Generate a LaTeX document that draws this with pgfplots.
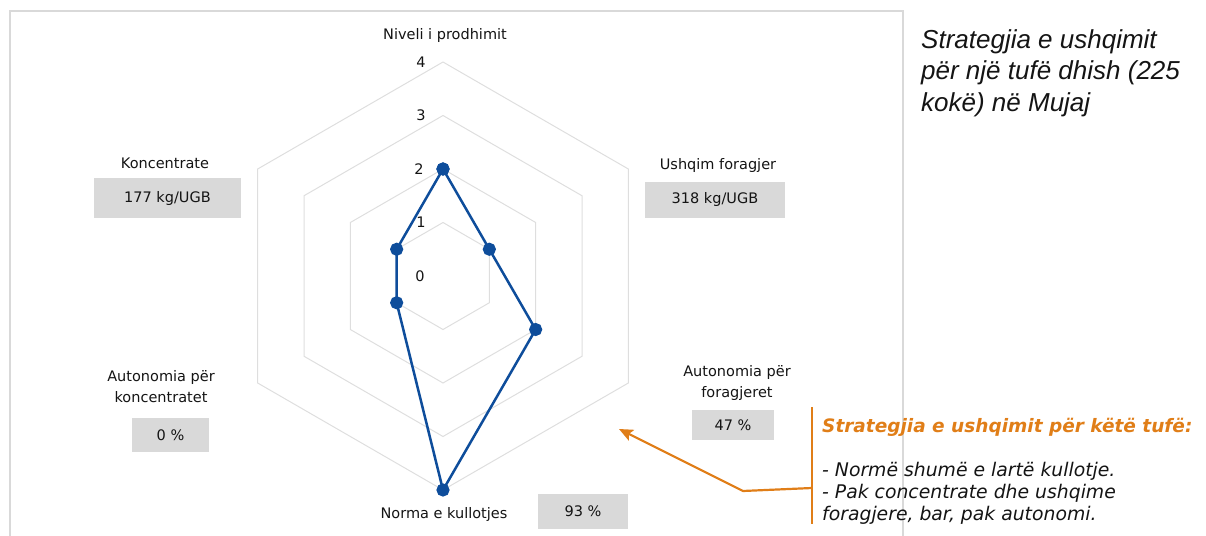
\documentclass[border=0pt]{standalone}
\usepackage{pgfplots}
\pgfplotsset{compat=1.18}
\usetikzlibrary{arrows.meta}
\usepackage{fontspec}
\setmainfont{DejaVu Sans}
\newfontfamily\titlefont{Liberation Sans}
\definecolor{gridc}{RGB}{222,222,222}
\definecolor{framec}{RGB}{217,217,217}
\definecolor{serc}{RGB}{14,77,155}
\definecolor{orng}{RGB}{224,126,24}
\definecolor{boxc}{RGB}{217,217,217}
\definecolor{txt}{RGB}{20,20,20}
\newcommand\lf{\fontsize{14.5bp}{21bp}\selectfont}
\begin{document}
\begin{tikzpicture}
\path[use as bounding box] (0bp,0bp) rectangle (1206bp,-536bp);
\draw[framec, line width=1.5bp] (10bp,-560bp) -- (10bp,-11bp) -- (903bp,-11bp) -- (903bp,-560bp);
\begin{axis}[at={(443bp,-276bp)}, anchor=center, scale only axis,
  width=428bp, height=428bp, xmin=-4, xmax=4, ymin=-4, ymax=4,
  hide axis, clip=false]
\addplot[gridc, line width=1bp, data cs=polar] coordinates {(90,1) (30,1) (-30,1) (-90,1) (-150,1) (150,1) (90,1)};
\addplot[gridc, line width=1bp, data cs=polar] coordinates {(90,2) (30,2) (-30,2) (-90,2) (-150,2) (150,2) (90,2)};
\addplot[gridc, line width=1bp, data cs=polar] coordinates {(90,3) (30,3) (-30,3) (-90,3) (-150,3) (150,3) (90,3)};
\addplot[gridc, line width=1bp, data cs=polar] coordinates {(90,4) (30,4) (-30,4) (-90,4) (-150,4) (150,4) (90,4)};
\addplot[serc, line width=2.5bp, mark=*, mark size=5.3bp, mark options={solid, fill=serc}, data cs=polar]
  coordinates {(90,2) (30,1) (-30,2) (-90,4) (-150,1) (150,1) (90,2)};
\node[text=txt, font=\lf] at (axis cs:-0.41,4) {4};
\node[text=txt, font=\lf] at (axis cs:-0.41,3) {3};
\node[text=txt, font=\lf] at (axis cs:-0.45,2) {2};
\node[text=txt, font=\lf] at (axis cs:-0.41,1) {1};
\node[text=txt, font=\lf] at (axis cs:-0.43,0) {0};
\end{axis}
\begin{scope}[x=1bp,y=1bp]
% category labels
\node[text=txt, font=\lf] at (445,-35) {Niveli i prodhimit};
\node[text=txt, font=\lf] at (165,-163) {Koncentrate};
\node[fill=boxc, minimum width=147bp, minimum height=40bp, inner sep=0, text=txt, font=\lf] at (167.5,-198) {177 kg/UGB};
\node[text=txt, font=\lf] at (718,-165) {Ushqim foragjer};
\node[fill=boxc, minimum width=140bp, minimum height=36bp, inner sep=0, text=txt, font=\lf] at (715,-199.5) {318 kg/UGB};
\node[text=txt, font=\lf, align=center] at (161,-387) {Autonomia për\\koncentratet};
\node[fill=boxc, minimum width=77bp, minimum height=34bp, inner sep=0, text=txt, font=\lf] at (170.5,-435) {0 \%};
\node[text=txt, font=\lf, align=center] at (737,-383) {Autonomia për\\foragjeret};
\node[fill=boxc, minimum width=82bp, minimum height=30bp, inner sep=0, text=txt, font=\lf] at (733,-425) {47 \%};
\node[text=txt, font=\lf] at (444,-514) {Norma e kullotjes};
\node[fill=boxc, minimum width=90bp, minimum height=35bp, inner sep=0, text=txt, font=\lf] at (583,-511.5) {93 \%};
% title
\node[anchor=north west, align=left, inner sep=0, text=txt,
  font={\titlefont\itshape\fontsize{26bp}{31.5bp}\selectfont}] at (921,-29) {Strategjia e ushqimit\\për një tufë dhish (225\\kokë) në Mujaj};
% callout
\draw[orng, line width=2bp] (812,-407) -- (812,-524);
\draw[orng, line width=2.2bp, -{Stealth[length=14bp,width=12bp,inset=3bp]}] (812,-488) -- (743,-491) -- (619,-429);
\node[anchor=base west, inner sep=0, text=orng, font={\bfseries\itshape\fontsize{18.5bp}{21bp}\selectfont}] at (822,-432) {Strategjia e ushqimit për këtë tufë:};
\node[anchor=base west, inner sep=0, text=txt, font={\itshape\fontsize{18.8bp}{21bp}\selectfont}] at (822,-476) {- Normë shumë e lartë kullotje.};
\node[anchor=base west, inner sep=0, text=txt, font={\itshape\fontsize{18.8bp}{21bp}\selectfont}] at (822,-498) {- Pak concentrate dhe ushqime};
\node[anchor=base west, inner sep=0, text=txt, font={\itshape\fontsize{18.8bp}{21bp}\selectfont}] at (822,-520) {foragjere, bar, pak autonomi.};
\end{scope}
\end{tikzpicture}
\end{document}
